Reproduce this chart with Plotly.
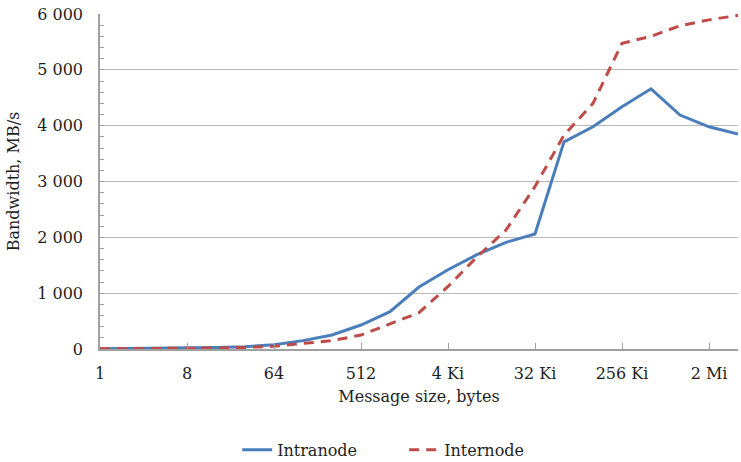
import plotly.graph_objects as go

sizes = ["1", "2", "4", "8", "16", "32", "64", "128", "256", "512",
         "1 Ki", "2 Ki", "4 Ki", "8 Ki", "16 Ki", "32 Ki", "64 Ki", "128 Ki",
         "256 Ki", "512 Ki", "1 Mi", "2 Mi", "4 Mi"]
intranode = [5, 8, 12, 18, 28, 42, 75, 150, 250, 430, 668, 1110, 1420, 1690,
             1910, 2060, 3710, 3980, 4340, 4660, 4190, 3980, 3850]
internode = [3, 5, 8, 12, 18, 28, 50, 100, 150, 250, 450, 650, 1120, 1650,
             2130, 2910, 3830, 4400, 5475, 5600, 5790, 5895, 5975]
tick_labels = ["1", "8", "64", "512", "4 Ki", "32 Ki", "256 Ki", "2 Mi"]
y_ticks = [0, 1000, 2000, 3000, 4000, 5000, 6000]
y_tick_labels = ["0", "1 000", "2 000", "3 000", "4 000", "5 000", "6 000"]

xi = list(range(len(sizes)))
tick_pos = [sizes.index(t) for t in tick_labels]

FONT = "DejaVu Serif"
TXT = "#1e1e1e"

fig = go.Figure()
fig.add_trace(go.Scatter(x=xi, y=intranode, mode="lines", name="Intranode",
                         line=dict(color="#4a7ebb", width=3)))
fig.add_trace(go.Scatter(x=xi, y=internode, mode="lines", name="Internode",
                         line=dict(color="#be4b48", width=3, dash="10px,7px")))

fig.update_layout(
    width=741, height=462,
    margin=dict(l=100, r=3, t=14, b=113, autoexpand=False),
    paper_bgcolor="white", plot_bgcolor="white",
    font=dict(family=FONT, size=16, color=TXT),
    showlegend=True,
    legend=dict(orientation="h", x=0.215, xanchor="left", y=-0.25, yanchor="top",
                entrywidth=122, entrywidthmode="pixels",
                font=dict(family=FONT, size=16, color=TXT)),
    xaxis=dict(
        range=[0, len(sizes) - 1], automargin=False,
        tickmode="array", tickvals=tick_pos, ticktext=tick_labels,
        ticks="inside", ticklen=6, tickcolor="#a0a0a0",
        ticklabelstandoff=9,
        showline=True, linecolor="#a0a0a0", linewidth=1.5,
        showgrid=False, zeroline=False,
        title=dict(text="Message size, bytes", standoff=9,
                   font=dict(family=FONT, size=16)),
        tickfont=dict(family=FONT, size=16),
    ),
    yaxis=dict(
        range=[0, 6000], automargin=False,
        tickmode="array", tickvals=y_ticks, ticktext=y_tick_labels,
        ticks="inside", ticklen=5, tickcolor="#a0a0a0",
        ticklabelstandoff=12,
        showline=True, linecolor="#a0a0a0", linewidth=1.5,
        showgrid=True, gridcolor="#b8b8b8", gridwidth=1.2,
        zeroline=False,
        minor=dict(dtick=200, ticks="inside", ticklen=4, tickcolor="#a0a0a0",
                   showgrid=False),
        title=dict(text="Bandwidth, MB/s", standoff=14,
                   font=dict(family=FONT, size=16)),
        tickfont=dict(family=FONT, size=16),
    ),
)

fig.write_html("out.html",
               config={"displayModeBar": False},
               post_script="document.body.style.margin='0';"
                           "document.documentElement.style.overflow='hidden';")
